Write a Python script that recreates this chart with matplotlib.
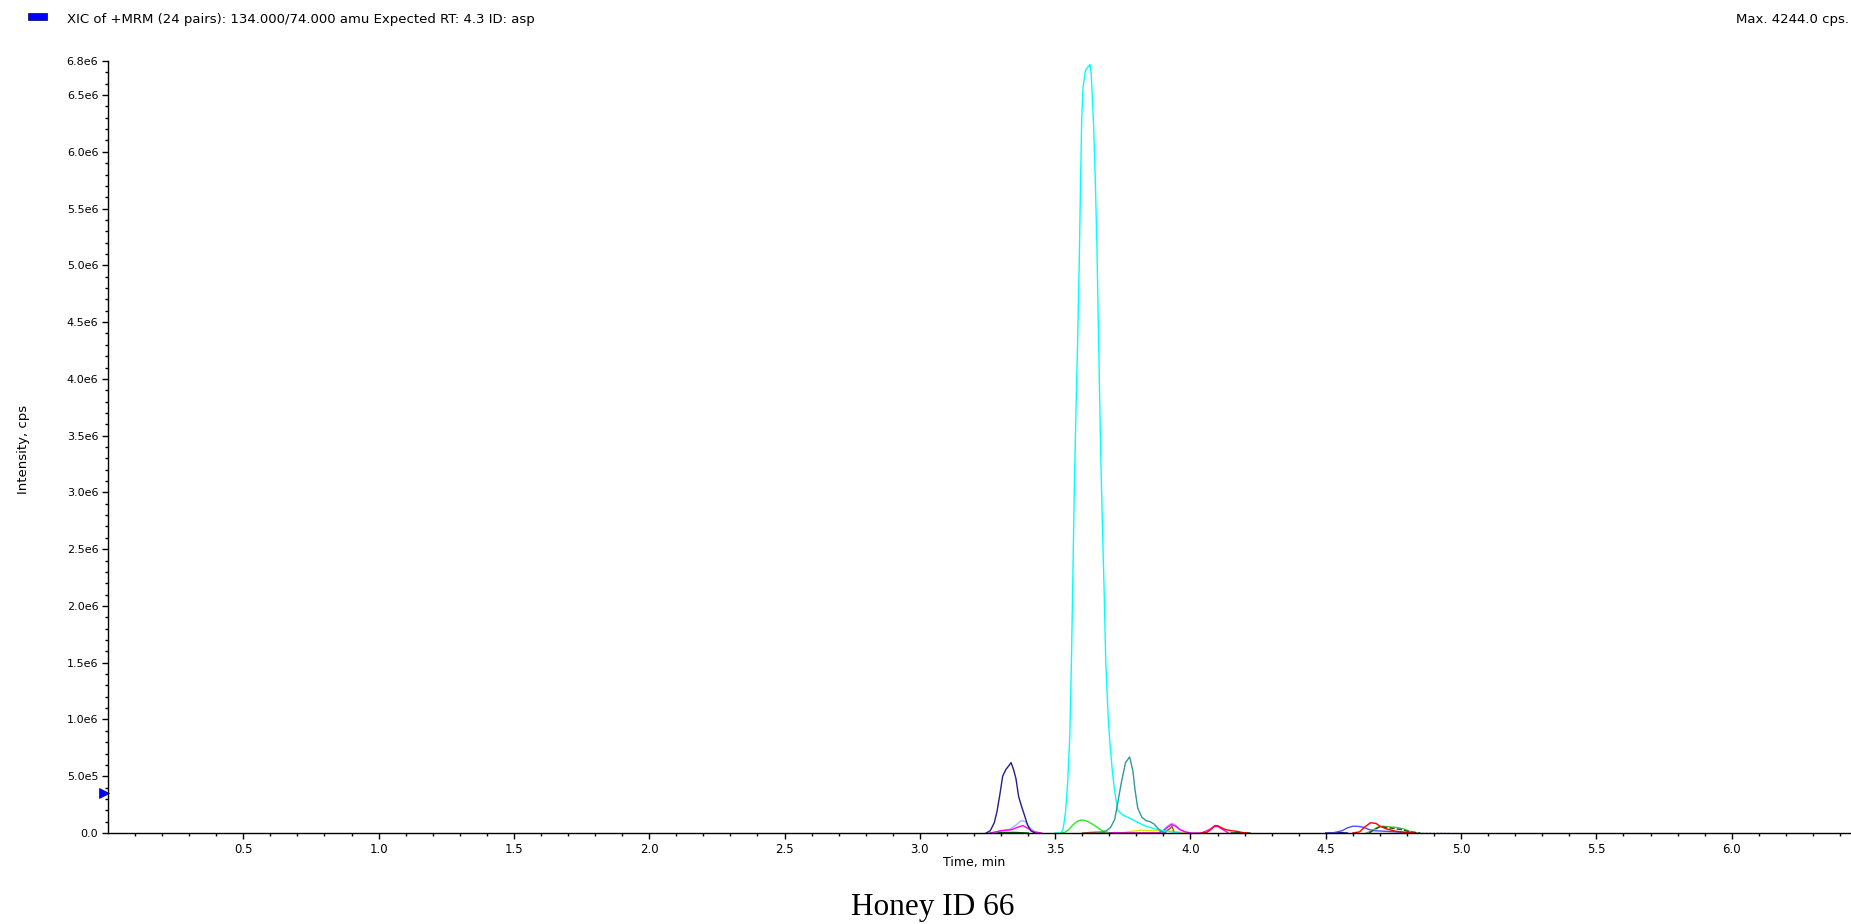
import numpy as np
import matplotlib
matplotlib.use("Agg")
import matplotlib.pyplot as plt
import matplotlib.patches as mpatches
from matplotlib.ticker import FixedLocator, FixedFormatter
from matplotlib.transforms import offset_copy

# axis ticks
x_major = [0.5, 1.0, 1.5, 2.0, 2.5, 3.0, 3.5, 4.0, 4.5, 5.0, 5.5, 6.0]
x_labels = ["0.5", "1.0", "1.5", "2.0", "2.5", "3.0", "3.5", "4.0", "4.5", "5.0", "5.5", "6.0"]
y_major = [0.0, 0.5e6, 1.0e6, 1.5e6, 2.0e6, 2.5e6, 3.0e6, 3.5e6, 4.0e6, 4.5e6, 5.0e6, 5.5e6, 6.0e6, 6.5e6, 6.8e6]
y_labels = ["0.0", "5.0e5", "1.0e6", "1.5e6", "2.0e6", "2.5e6", "3.0e6", "3.5e6", "4.0e6",
            "4.5e6", "5.0e6", "5.5e6", "6.0e6", "6.5e6", "6.8e6"]
x_max = 6.437
y_max = 6.8e6
marker_level = 3.5e5

# traces (time in min, intensity in 1e6 cps)
navy_t = [3.245, 3.26, 3.275, 3.285, 3.295, 3.306, 3.318, 3.328, 3.337, 3.346, 3.355, 3.365, 3.375, 3.386, 3.398, 3.41, 3.425]
navy_y = [0, 0.02, 0.09, 0.19, 0.33, 0.50, 0.56, 0.59, 0.62, 0.56, 0.48, 0.32, 0.24, 0.16, 0.07, 0.02, 0]
navy2_t = [4.50, 4.53, 4.56, 4.58]
navy2_y = [0, 0.003, 0.003, 0]

lav_t = [3.27, 3.30, 3.33, 3.355, 3.375, 3.39, 3.405, 3.42, 3.44]
lav_y = [0.0, 0.02, 0.03, 0.07, 0.11, 0.10, 0.05, 0.02, 0]
lav2_t = [3.88, 3.90, 3.915, 3.93, 3.945, 3.96, 3.98, 4.00]
lav2_y = [0, 0.025, 0.06, 0.085, 0.07, 0.035, 0.012, 0]

mag_t = [3.26, 3.30, 3.34, 3.36, 3.38, 3.40, 3.42, 3.45]
mag_y = [0, 0.02, 0.03, 0.05, 0.065, 0.04, 0.01, 0]
mag2_t = [3.70, 3.72, 3.73, 3.88, 3.90, 3.915, 3.93, 3.945, 3.96, 3.98, 4.00, 4.04, 4.07, 4.085, 4.10, 4.12, 4.14]
mag2_y = [0, 0.004, 0, 0, 0.02, 0.05, 0.075, 0.06, 0.03, 0.01, 0, 0, 0.03, 0.055, 0.058, 0.03, 0]

green_t = [3.52, 3.535, 3.55, 3.565, 3.58, 3.595, 3.61, 3.625, 3.64, 3.655, 3.67, 3.685, 3.70]
green_y = [0, 0.005, 0.03, 0.07, 0.10, 0.115, 0.11, 0.095, 0.075, 0.05, 0.025, 0.01, 0]

cyan_t = [3.50, 3.52, 3.529, 3.538, 3.546, 3.554, 3.560, 3.566, 3.571, 3.577, 3.583, 3.589, 3.594,
          3.598, 3.603, 3.612, 3.622, 3.629, 3.633, 3.636, 3.642, 3.648, 3.654, 3.659, 3.664,
          3.669, 3.675, 3.681, 3.687, 3.696, 3.703, 3.711, 3.719, 3.731, 3.749, 3.775, 3.80,
          3.835, 3.87, 3.90, 3.93, 3.96]
cyan_y = [0, 0, 0.03, 0.18, 0.44, 0.85, 1.50, 2.36, 3.08, 3.74, 4.34, 5.03, 5.77,
          6.29, 6.57, 6.72, 6.75, 6.77, 6.69, 6.54, 6.23, 5.77, 5.20, 4.53, 3.88,
          3.26, 2.67, 2.12, 1.50, 1.01, 0.77, 0.55, 0.38, 0.20, 0.16, 0.13, 0.10,
          0.06, 0.035, 0.02, 0.01, 0]

teal_t = [3.66, 3.69, 3.705, 3.72, 3.73, 3.745, 3.76, 3.775, 3.787, 3.795, 3.805, 3.82,
          3.835, 3.85, 3.865, 3.88, 3.895, 3.91]
teal_y = [0, 0.02, 0.05, 0.12, 0.25, 0.45, 0.62, 0.67, 0.55, 0.38, 0.22, 0.14,
          0.11, 0.10, 0.08, 0.04, 0.01, 0]

yellow_t = [3.74, 3.78, 3.82, 3.86, 3.90, 3.94, 3.97, 4.00]
yellow_y = [0, 0.015, 0.025, 0.02, 0.02, 0.015, 0.005, 0]

brown_t = [3.60, 3.63, 3.66, 3.69, 3.72, 3.90, 3.925, 3.932, 3.94, 3.96]
brown_y = [0, 0.005, 0.008, 0.005, 0, 0, 0.04, 0.06, 0.0, 0]

red_t = [4.04, 4.06, 4.075, 4.09, 4.10, 4.115, 4.13, 4.15, 4.17, 4.19, 4.21]
red_y = [0, 0.005, 0.03, 0.065, 0.065, 0.045, 0.03, 0.02, 0.015, 0.005, 0]
red2_t = [4.60, 4.625, 4.645, 4.665, 4.685, 4.70, 4.725, 4.76, 4.80, 4.83]
red2_y = [0, 0.01, 0.055, 0.09, 0.085, 0.06, 0.035, 0.015, 0.005, 0]

blue_t = [4.50, 4.53, 4.56, 4.58, 4.60, 4.62, 4.64, 4.66, 4.68, 4.72, 4.76, 4.80]
blue_y = [0, 0.003, 0.02, 0.045, 0.06, 0.058, 0.05, 0.03, 0.02, 0.015, 0.01, 0]

mgreen_t = [4.65, 4.67, 4.69, 4.71, 4.73, 4.76, 4.79, 4.81, 4.84]
mgreen_y = [0, 0.02, 0.05, 0.06, 0.055, 0.05, 0.035, 0.015, 0]

dgreen_t = [3.26, 3.30, 3.35, 3.40]
dgreen_y = [0, 0.005, 0.005, 0]
dgreen2_t = [4.15, 4.18, 4.22]
dgreen2_y = [0, 0.003, 0]
dgreen3_t = [4.66, 4.68, 4.70, 4.72, 4.75, 4.78, 4.81, 4.85]
dgreen3_y = [0, 0.03, 0.055, 0.05, 0.04, 0.03, 0.01, 0]

dblue_t = [4.80, 4.85, 4.90, 4.95]
dblue_y = [0.004, 0.004, 0.004, 0.004]

traces = [
    (dgreen_t, dgreen_y, "#006400", "-"),
    (dgreen2_t, dgreen2_y, "#006400", "-"),
    (yellow_t, yellow_y, "#e6e600", "-"),
    (brown_t, brown_y, "#a0522d", "-"),
    (green_t, green_y, "#22ee22", "-"),
    (lav_t, lav_y, "#a4b4ff", "-"),
    (lav2_t, lav2_y, "#b0a8ff", "-"),
    (mag_t, mag_y, "#ff00ff", "-"),
    (mag2_t, mag2_y, "#ff00ff", "-"),
    (navy_t, navy_y, "#1f1f8f", "-"),
    (navy2_t, navy2_y, "#1f1f8f", "-"),
    (cyan_t, cyan_y, "#00ffff", "-"),
    (teal_t, teal_y, "#339999", "-"),
    (blue_t, blue_y, "#4d4dff", "-"),
    (mgreen_t, mgreen_y, "#5cb85c", "-"),
    (dgreen3_t, dgreen3_y, "#006400", "--"),
    (red_t, red_y, "#ff0000", "-"),
    (red2_t, red2_y, "#ff0000", "-"),
    (dblue_t, dblue_y, "#0000cc", ":"),
]

fig = plt.figure(figsize=(18.51, 9.24), dpi=100)
L, R, B, T = 108 / 1851, 1850 / 1851, 1 - 833 / 924, 1 - 61 / 924
ax = fig.add_axes([L, B, R - L, T - B])

for t, y, c, ls in traces:
    ax.plot(t, np.array(y) * 1e6, color=c, lw=1.0, ls=ls)

ax.set_xlim(0, x_max)
ax.set_ylim(0, y_max)
for s in ["top", "right"]:
    ax.spines[s].set_visible(False)
for s in ["left", "bottom"]:
    ax.spines[s].set_linewidth(1.0)

ax.xaxis.set_major_locator(FixedLocator(x_major))
ax.xaxis.set_major_formatter(FixedFormatter(x_labels))
ax.xaxis.set_minor_locator(FixedLocator(np.arange(0.1, 6.41, 0.1)))
ax.yaxis.set_major_locator(FixedLocator(y_major))
ax.yaxis.set_major_formatter(FixedFormatter(y_labels))
ax.yaxis.set_minor_locator(FixedLocator(np.arange(0.1e6, 6.75e6, 0.1e6)))
ax.tick_params(which="major", direction="out", length=4, width=1, labelsize=8, pad=3)
ax.tick_params(axis="x", which="major", labelsize=8.5)
ax.tick_params(which="minor", direction="out", length=2.5, width=1)

ax.set_xlabel("Time, min", fontsize=9)
ax.xaxis.set_label_coords(0.497, -0.03)
ax.set_ylabel("Intensity, cps", fontsize=9.5)
ax.yaxis.set_label_coords(-0.045, 0.497)

# blue marker on the y axis
tr = offset_copy(ax.transData, fig=fig, x=-4, y=0, units="dots")
ax.plot([0], [marker_level], marker=">", ms=7, color="#0000ff", mec="#000080", mew=0.5,
        transform=tr, clip_on=False)

# header
fig.patches.append(mpatches.Rectangle((28 / 1851, 1 - 20 / 924), 19 / 1851, 7 / 924,
                                      transform=fig.transFigure, facecolor="#0000ff",
                                      edgecolor="#000060", lw=0.5))
fig.text(67 / 1851, 1 - 19 / 924, "XIC of +MRM (24 pairs): 134.000/74.000 amu Expected RT: 4.3 ID: asp",
         fontsize=9.5, va="center", ha="left")
fig.text(1849 / 1851, 1 - 19 / 924, "Max. 4244.0 cps.", fontsize=9.5, va="center", ha="right")

fig.text(933 / 1851, 1 - 907 / 924, "Honey ID 66", ha="center", va="center",
         family="Liberation Serif", fontsize=22.5)

fig.savefig("out.png", dpi=100)
